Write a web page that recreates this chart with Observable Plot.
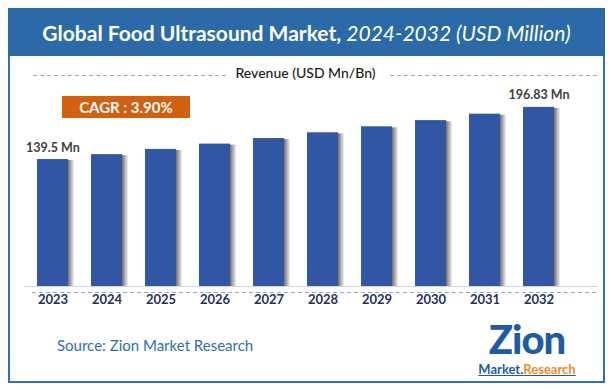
<!DOCTYPE html>
<html><head><meta charset="utf-8">
<script src="https://cdn.jsdelivr.net/npm/d3@7"></script>
<script src="https://cdn.jsdelivr.net/npm/@observablehq/plot@0.6"></script>
<style>
body{margin:0;background:#fff;font-family:Lato,"Noto Sans",sans-serif;}
#wrap{position:relative;width:611px;height:390px;overflow:hidden;}
#frame{position:absolute;left:8px;top:8px;width:593px;height:371px;border:2px solid #2e72b4;}
#band{position:absolute;left:8px;top:8px;width:597px;height:48px;background:#2b6aa8;color:#fff;text-align:center;line-height:50px;font-size:21px;font-weight:700;white-space:nowrap;}
#band i{font-weight:400;}
#rev{position:absolute;left:0;width:611px;top:64px;text-align:center;font-size:14px;color:#1a1a1a;font-weight:500;}
.dash{position:absolute;height:1px;background:repeating-linear-gradient(90deg,#86a9dc 0 4px,transparent 4px 7px);}
#cagr{position:absolute;left:62px;top:96px;width:128px;height:22px;background:#d2600e;color:#fff;font-weight:700;font-size:15px;line-height:22px;text-align:center;}
#base{position:absolute;left:24px;top:286px;width:574px;height:1px;background:#d6d6d6;}
#src{position:absolute;left:57px;top:336px;font-size:15px;color:#2e6db0;}
#logo{position:absolute;left:472px;top:318px;width:110px;text-align:center;}
#logo .z{font-size:40px;font-weight:900;color:#1f5aa6;line-height:42px;letter-spacing:-1px;height:42px;}
#logo .m{font-size:13px;font-weight:700;line-height:14px;margin-top:2px;text-decoration:underline;text-decoration-color:#1f5aa6;}
#chart{position:absolute;left:0;top:60px;}
</style></head>
<body>
<div id="wrap">
  <div id="frame"></div>
  <div id="band">Global Food Ultrasound Market, <i>2024-2032 (USD Million)</i></div>
  <div class="dash" style="left:33px;top:75px;width:196px"></div>
  <div class="dash" style="left:390px;top:75px;width:208px"></div>
  <div id="rev">Revenue (USD Mn/Bn)</div>
  <div id="cagr">CAGR : 3.90%</div>
  <div id="chart"></div>
  <div id="base"></div>
  <div class="dash" style="left:32px;top:292px;width:566px"></div>
  <div id="src">Source: Zion Market Research</div>
  <div id="logo"><div class="z">Zion</div><div class="m"><span style="color:#1f5aa6">Market.</span><span style="color:#f08a1c">Research</span></div></div>
</div>
<script>
const years = ["2023","2024","2025","2026","2027","2028","2029","2030","2031","2032"];
const revenue = [139.5, 144.9, 150.6, 156.5, 162.6, 168.9, 175.5, 182.3, 189.4, 196.83];
const valueLabels = ["139.5 Mn","","","","","","","","","196.83 Mn"];
const data = years.map((y,i)=>({year:y, value:revenue[i], label:valueLabels[i]}));

const defs = () => {
  const g = d3.create("svg:defs");
  const lg = g.append("linearGradient").attr("id","shadowGrad").attr("x1","0").attr("x2","1").attr("y1","0").attr("y2","0");
  lg.append("stop").attr("offset","0.78").attr("stop-color","#5e5e5e");
  lg.append("stop").attr("offset","1").attr("stop-color","#f2f2f2");
  return g.node();
};

const chart = Plot.plot({
  width: 611, height: 255,
  marginLeft: 11.5, marginRight: 31, marginTop: 30, marginBottom: 29,
  style: {fontFamily: "Lato, 'Noto Sans', sans-serif", background: "transparent", overflow: "visible"},
  x: {domain: years, padding: 0.43, label: null, tickSize: 0, tickPadding: 8},
  y: {domain: [0, 215.4], axis: null},
  marks: [
    defs,
    Plot.barY(data, {x: "year", y: "value", fill: "url(#shadowGrad)", dx: 6, dy: 1}),
    Plot.barY(data, {x: "year", y: "value", fill: "#3156a3"}),
    Plot.text(data.filter(d=>d.label), {x: "year", y: "value", text: "label", dy: -12, fontSize: 12.5, fontWeight: 700, fill: "#404040"}),
    Plot.axisX({tickSize: 0, tickPadding: 8, fontSize: 13, fontWeight: 700, fill: "#1f3060", label: null})
  ]
});
document.getElementById("chart").appendChild(chart);
</script>
</body></html>
